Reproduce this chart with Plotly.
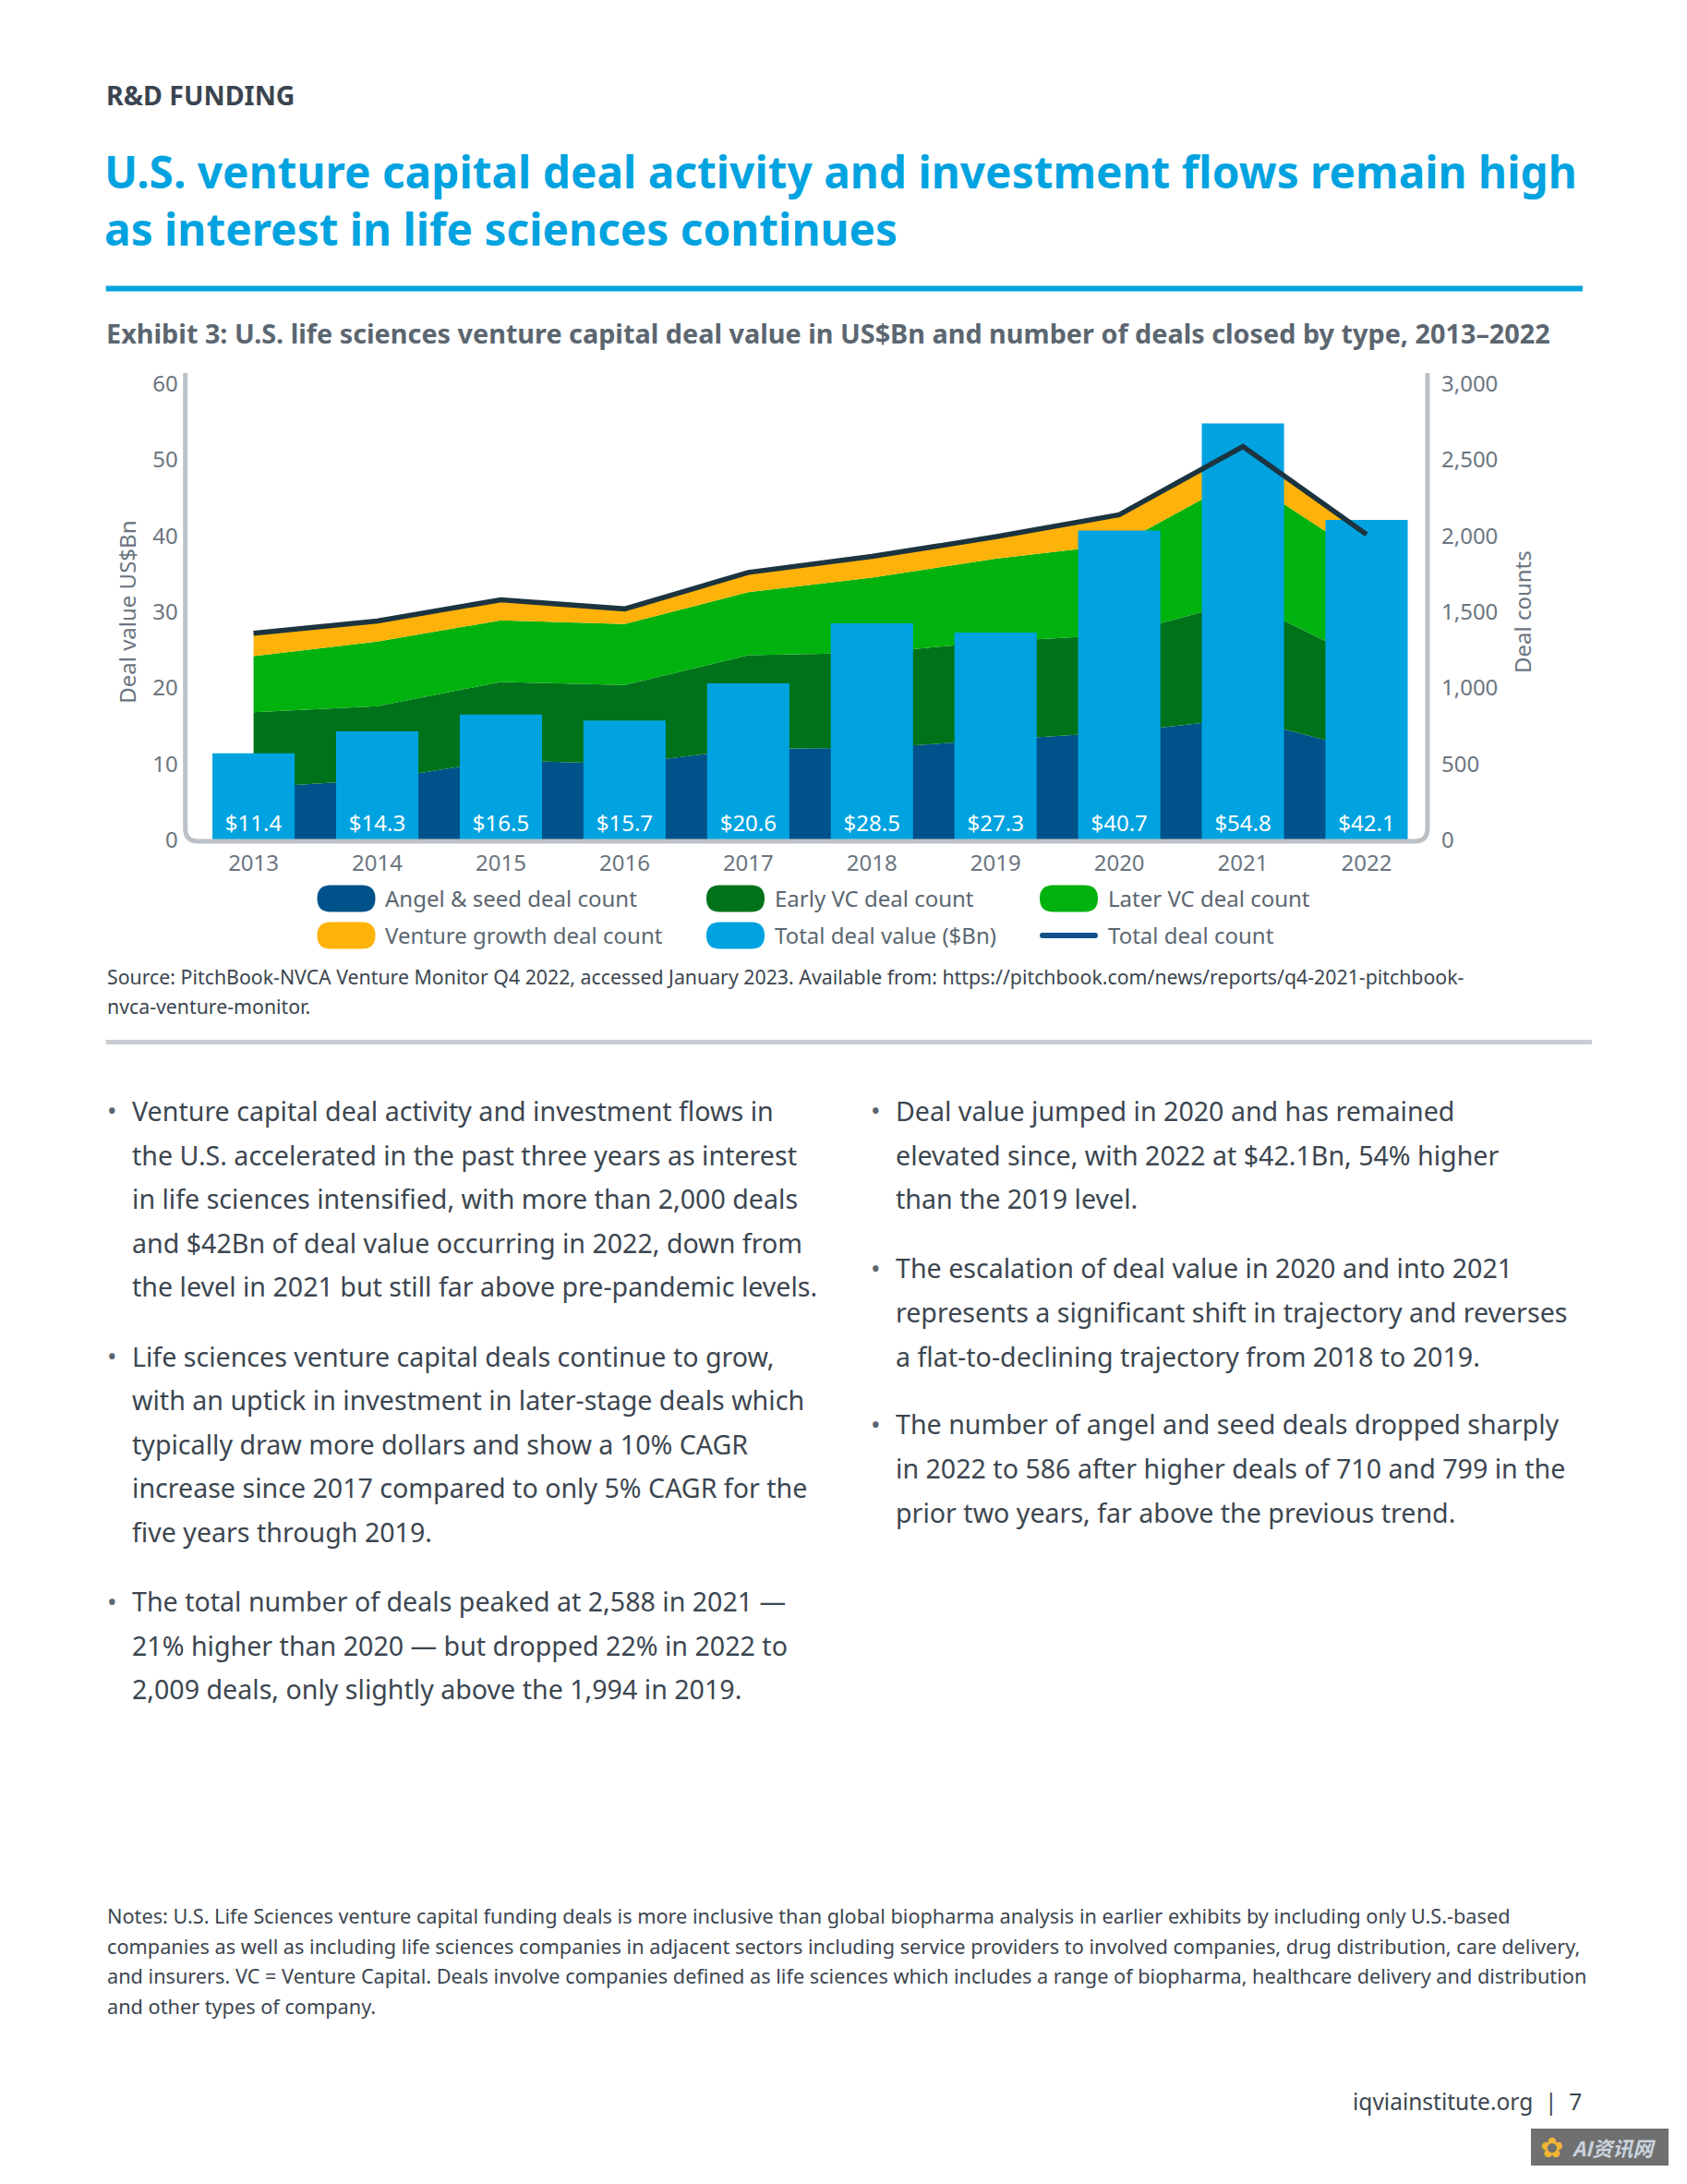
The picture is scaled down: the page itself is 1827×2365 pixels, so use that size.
import plotly.graph_objects as go

W, H = 1827, 2365
OFF = 8  # page body margin compensation
FONT = "Noto Sans"

# ---------------- data ----------------
years = [2013, 2014, 2015, 2016, 2017, 2018, 2019, 2020, 2021, 2022]
deal_value_bn = [11.4, 14.3, 16.5, 15.7, 20.6, 28.5, 27.3, 40.7, 54.8, 42.1]
angel_seed_count = [345, 395, 525, 500, 600, 605, 658, 710, 799, 586]
early_vc_count = [495, 485, 515, 520, 615, 625, 647, 640, 775, 592]
later_vc_count = [370, 425, 405, 400, 415, 495, 545, 595, 812, 675]
venture_growth_count = [150, 135, 135, 100, 130, 140, 144, 194, 202, 156]
total_deal_count = [1360, 1440, 1580, 1520, 1760, 1865, 1994, 2139, 2588, 2009]

left_ticks = [0, 10, 20, 30, 40, 50, 60]
right_ticks = [0, 500, 1000, 1500, 2000, 2500, 3000]

# colours
C_ANGEL = "#00528a"
C_EARLY = "#00731a"
C_LATER = "#00b20d"
C_GROWTH = "#ffb20a"
C_BAR = "#00a3e0"
C_LINE = "#1c3440"
C_LEG_LINE = "#11508a"
C_TEXT = "#3c4650"
C_TICK = "#6b7580"
C_AXIS = "#bcc1c6"
C_BLUE = "#00a3e0"


def px(x):
    return (x - OFF) / W


def py(y):
    return 1 - (y - OFF) / H


# plot area geometry (pixels in the reference)
X_L, X_R = 200.7, 1546.0
Y0, Y60 = 909.6, 415.7
x_per_year = (1480.0 - 274.6) / 9
x_range = [2013 - (274.6 - X_L) / x_per_year, 2022 + (X_R - 1480.0) / x_per_year]

fig = go.Figure()

area_series = [
    ("Angel & seed deal count", angel_seed_count, C_ANGEL),
    ("Early VC deal count", early_vc_count, C_EARLY),
    ("Later VC deal count", later_vc_count, C_LATER),
    ("Venture growth deal count", venture_growth_count, C_GROWTH),
]
for name, vals, col in area_series:
    fig.add_trace(go.Scatter(
        x=years, y=vals, name=name, mode="lines", stackgroup="deals",
        line=dict(width=0, color=col), fillcolor=col, yaxis="y",
        showlegend=False, hoverinfo="x+y+name",
    ))

fig.add_trace(go.Bar(
    x=years, y=deal_value_bn, name="Total deal value ($Bn)", yaxis="y2",
    marker=dict(color=C_BAR, line=dict(width=0)), width=0.665,
    texttemplate="$%{y:.1f}", textposition="inside", insidetextanchor="start",
    textangle=0, constraintext="none",
    textfont=dict(color="white", size=24, family=FONT), showlegend=False,
))

fig.add_trace(go.Scatter(
    x=years, y=total_deal_count, name="Total deal count", mode="lines",
    line=dict(color=C_LINE, width=5.5), yaxis="y3", showlegend=False,
))

TICKF = dict(size=24, color=C_TICK, family=FONT)
ydom = [py(Y0), py(Y60)]
fig.update_layout(
    width=W, height=H, autosize=False,
    margin=dict(l=0, r=0, t=0, b=0, pad=0, autoexpand=False),
    paper_bgcolor="white", plot_bgcolor="rgba(0,0,0,0)",
    font=dict(family=FONT, color=C_TEXT),
    showlegend=False,
    xaxis=dict(
        domain=[px(X_L), px(X_R)], range=x_range, tickvals=years,
        ticktext=[str(y) for y in years], showgrid=False, zeroline=False,
        showline=False, ticks="", ticklabelstandoff=8, automargin=False,
        tickfont=TICKF,
    ),
    yaxis=dict(
        domain=ydom, range=[0, 3000], side="right", tickvals=right_ticks,
        tickformat=",", showgrid=False, zeroline=False, showline=False,
        ticks="", ticklabelstandoff=14, automargin=False,
        tickfont=TICKF,
        title=dict(text="Deal counts", standoff=19, font=TICKF),
    ),
    yaxis2=dict(
        overlaying="y", range=[0, 60], side="left", tickvals=left_ticks,
        showgrid=False, zeroline=False, showline=False, ticks="",
        ticklabelstandoff=7, automargin=False,
        tickfont=TICKF,
        title=dict(text="Deal value US$Bn", standoff=10, font=TICKF),
    ),
    yaxis3=dict(overlaying="y", range=[0, 3000], visible=False, automargin=False),
    bargap=0.335,
)

shapes = []
# U-shaped axis frame with rounded corners
r = 14
top = 404
bot = 911
path = (
    f"M {px(X_L)},{py(top)} L {px(X_L)},{py(bot - r)} "
    f"Q {px(X_L)},{py(bot)} {px(X_L + r)},{py(bot)} "
    f"L {px(X_R - r)},{py(bot)} "
    f"Q {px(X_R)},{py(bot)} {px(X_R)},{py(bot - r)} "
    f"L {px(X_R)},{py(top)}"
)
shapes.append(dict(type="path", xref="paper", yref="paper", path=path,
                   line=dict(color=C_AXIS, width=5), layer="above"))

# blue rule under title and gray rule under source
shapes.append(dict(type="line", xref="paper", yref="paper",
                   x0=px(114.7), x1=px(1714), y0=py(312.5), y1=py(312.5),
                   line=dict(color=C_BLUE, width=6)))
shapes.append(dict(type="line", xref="paper", yref="paper",
                   x0=px(114.7), x1=px(1724), y0=py(1128.5), y1=py(1128.5),
                   line=dict(color="#c9cdd1", width=5)))


def pill(x0, yc, w=63, h=29):
    rad = h / 2
    x1 = x0 + w
    y0, y1 = yc - h / 2, yc + h / 2
    return (
        f"M {px(x0 + rad)},{py(y0)} L {px(x1 - rad)},{py(y0)} "
        f"Q {px(x1)},{py(y0)} {px(x1)},{py(y0 + rad)} "
        f"Q {px(x1)},{py(y1)} {px(x1 - rad)},{py(y1)} "
        f"L {px(x0 + rad)},{py(y1)} Q {px(x0)},{py(y1)} {px(x0)},{py(y1 - rad)} "
        f"Q {px(x0)},{py(y0)} {px(x0 + rad)},{py(y0)} Z"
    )


annotations = []

legend_items = [
    ("Angel & seed deal count", C_ANGEL, "pill", 343.5, 973),
    ("Early VC deal count", C_EARLY, "pill", 765, 973),
    ("Later VC deal count", C_LATER, "pill", 1126, 973),
    ("Venture growth deal count", C_GROWTH, "pill", 343.5, 1013),
    ("Total deal value ($Bn)", C_BAR, "pill", 765, 1013),
    ("Total deal count", C_LEG_LINE, "line", 1126, 1013),
]
for label, col, kind, lx, ly in legend_items:
    if kind == "pill":
        shapes.append(dict(type="path", xref="paper", yref="paper",
                           path=pill(lx, ly), fillcolor=col,
                           line=dict(width=0)))
    else:
        shapes.append(dict(type="path", xref="paper", yref="paper",
                           path=pill(lx, ly, w=63, h=6), fillcolor=col,
                           line=dict(width=0)))
    annotations.append(dict(
        x=px(lx + 71.5), y=py(ly), xref="paper", yref="paper",
        text=label.replace("&", "&amp;"), showarrow=False,
        xanchor="left", yanchor="middle",
        font=dict(size=24, color="#5b6670", family=FONT)))


def text(x, y, s, size, color=C_TEXT, bold=False, anchor="left"):
    if bold:
        s = f"<b>{s}</b>"
    annotations.append(dict(
        x=px(x), y=py(y), xref="paper", yref="paper", text=s,
        showarrow=False, xanchor=anchor, yanchor="middle", align=anchor,
        font=dict(size=size, color=color, family=FONT)))


text(113, 102.6, "R&amp;D FUNDING", 28.5, "#3b4550", bold=True)
text(111, 217.0,
     "U.S. venture capital deal activity and investment flows remain high<br>"
     "as interest in life sciences continues", 47.8, C_BLUE, bold=True)
text(113, 360.5,
     "Exhibit 3: U.S. life sciences venture capital deal value in US$Bn and number of deals closed by type, 2013–2022",
     28.8, "#5b6670", bold=True)

text(113.5, 1057.6,
     "Source: PitchBook-NVCA Venture Monitor Q4 2022, accessed January 2023. Available from: https://pitchbook.com/news/reports/q4-2021-pitchbook-",
     21.3)
text(113.5, 1089.3, "nvca-venture-monitor.", 21.3)

left_bullets = [
    (1202.4, ["Venture capital deal activity and investment flows in",
              "the U.S. accelerated in the past three years as interest",
              "in life sciences intensified, with more than 2,000 deals",
              "and $42Bn of deal value occurring in 2022, down from",
              "the level in 2021 but still far above pre-pandemic levels."]),
    (1468.0, ["Life sciences venture capital deals continue to grow,",
              "with an uptick in investment in later-stage deals which",
              "typically draw more dollars and show a 10% CAGR",
              "increase since 2017 compared to only 5% CAGR for the",
              "five years through 2019."]),
    (1733.5, ["The total number of deals peaked at 2,588 in 2021 —",
              "21% higher than 2020 — but dropped 22% in 2022 to",
              "2,009 deals, only slightly above the 1,994 in 2019."]),
]
right_bullets = [
    (1202.4, ["Deal value jumped in 2020 and has remained",
              "elevated since, with 2022 at $42.1Bn, 54% higher",
              "than the 2019 level."]),
    (1372.9, ["The escalation of deal value in 2020 and into 2021",
              "represents a significant shift in trajectory and reverses",
              "a flat-to-declining trajectory from 2018 to 2019."]),
    (1541.9, ["The number of angel and seed deals dropped sharply",
              "in 2022 to 586 after higher deals of 710 and 799 in the",
              "prior two years, far above the previous trend."]),
]
LS = 47.6
for bx, tx, groups in [(114, 141, left_bullets), (941, 967.5, right_bullets)]:
    for y0, lines in groups:
        text(bx, y0, "•", 28, "#5b6670")
        for i, ln in enumerate(lines):
            text(tx, y0 + i * LS, ln, 28.6)

notes = [
    "Notes: U.S. Life Sciences venture capital funding deals is more inclusive than global biopharma analysis in earlier exhibits by including only U.S.-based",
    "companies as well as including life sciences companies in adjacent sectors including service providers to involved companies, drug distribution, care delivery,",
    "and insurers. VC = Venture Capital. Deals involve companies defined as life sciences which includes a range of biopharma, healthcare delivery and distribution",
    "and other types of company.",
]
for i, ln in enumerate(notes):
    text(113.5, 2074.5 + i * 32.7, ln, 21.7)

text(1715, 2275, "iqviainstitute.org  |  7", 24.5, C_TEXT, anchor="right")

# watermark badge
shapes.append(dict(type="rect", xref="paper", yref="paper",
                   x0=px(1658), x1=px(1807), y0=py(2345), y1=py(2305),
                   fillcolor="#707070", line=dict(width=0)))
annotations.append(dict(x=px(1700), y=py(2325), xref="paper", yref="paper",
                        text="<b><i>AI资讯网</i></b>", showarrow=False,
                        xanchor="left", yanchor="middle",
                        font=dict(size=22, color="#c9d3dd", family="Noto Sans CJK SC")))
annotations.append(dict(x=px(1680), y=py(2325), xref="paper", yref="paper",
                        text="✿", showarrow=False, xanchor="center", yanchor="middle",
                        font=dict(size=30, color="#f2b632", family="DejaVu Sans")))

fig.update_layout(shapes=shapes, annotations=annotations)
fig.write_html("out.html")
